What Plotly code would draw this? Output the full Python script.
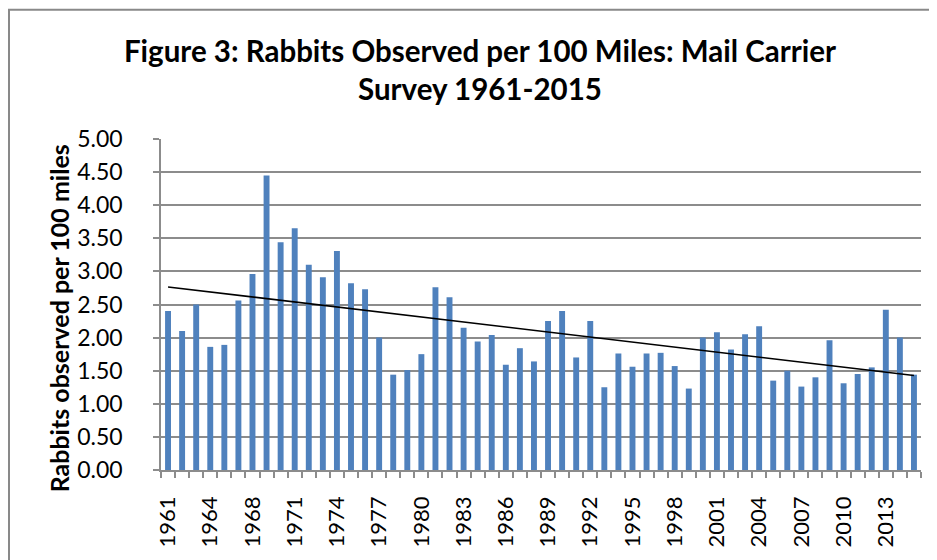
import numpy as np
import plotly.graph_objects as go

# Survey years (one year between 1964 and 1968 is absent from the chart)
years = [1961, 1962, 1963, 1964, 1966, 1967, 1968, 1969, 1970, 1971,
         1972, 1973, 1974, 1975, 1976, 1977, 1978, 1979, 1980, 1981,
         1982, 1983, 1984, 1985, 1986, 1987, 1988, 1989, 1990, 1991,
         1992, 1993, 1994, 1995, 1996, 1997, 1998, 1999, 2000, 2001,
         2002, 2003, 2004, 2005, 2006, 2007, 2008, 2009, 2010, 2011,
         2012, 2013, 2014, 2015]

rabbits = [2.40, 2.10, 2.50, 1.86, 1.89, 2.56, 2.96, 4.45, 3.44, 3.65,
           3.10, 2.91, 3.31, 2.82, 2.73, 2.00, 1.44, 1.51, 1.75, 2.76,
           2.61, 2.15, 1.94, 2.04, 1.59, 1.84, 1.64, 2.25, 2.40, 1.70,
           2.25, 1.25, 1.76, 1.56, 1.76, 1.77, 1.57, 1.23, 2.00, 2.08,
           1.82, 2.05, 2.17, 1.35, 1.50, 1.26, 1.40, 1.96, 1.31, 1.45,
           1.55, 2.42, 2.00, 1.44]

label_years = [1961, 1964, 1968, 1971, 1974, 1977, 1980, 1983, 1986, 1989,
               1992, 1995, 1998, 2001, 2004, 2007, 2010, 2013]

y_ticks = [0.0, 0.5, 1.0, 1.5, 2.0, 2.5, 3.0, 3.5, 4.0, 4.5, 5.0]

title_text = "Figure 3: Rabbits Observed per 100 Miles: Mail Carrier<br>Survey 1961-2015"
y_title = "Rabbits observed per 100 miles"

idx = list(range(len(years)))
label_idx = [years.index(y) for y in label_years]

# Linear trendline (as Excel's)
xs = np.arange(1, len(rabbits) + 1)
slope, intercept = np.polyfit(xs, rabbits, 1)
trend_x = [idx[0], idx[-1]]
trend_y = [slope * xs[0] + intercept, slope * xs[-1] + intercept]

GRID = "#8c8c8c"
FONT = "Lato"

fig = go.Figure()
fig.add_trace(go.Bar(x=idx, y=rabbits, width=0.42,
                     marker=dict(color="#4F81BD", line=dict(width=0)),
                     showlegend=False, hoverinfo="y"))
fig.add_trace(go.Scatter(x=trend_x, y=trend_y, mode="lines",
                         line=dict(color="black", width=1.6),
                         showlegend=False, hoverinfo="skip"))

# The page body has an 8px margin, so the figure is sized to fit inside it.
W, H = 929, 552
L, R, T, B = 153, 16, 131, 87
pw, ph = W - L - R, H - T - B

fig.update_layout(
    width=W, height=H,
    margin=dict(l=L, r=R, t=T, b=B),
    paper_bgcolor="white", plot_bgcolor="white",
    font=dict(family=FONT, color="black", size=22),
    title=dict(text=title_text, x=472 / W, xref="container", xanchor="center",
               y=1 - 53.5 / H, yref="container", yanchor="top",
               font=dict(family=FONT, size=29.5, color="black", weight="bold")),
    xaxis=dict(range=[-0.5, len(years) - 0.5],
               tickmode="array", tickvals=label_idx,
               ticktext=[str(y) for y in label_years],
               tickangle=-90, ticks="", showgrid=False, zeroline=False,
               showline=True, linecolor=GRID, linewidth=1.5,
               ticklabelstandoff=16,
               tickfont=dict(family=FONT, size=22, color="black"),
               minor=dict(tickmode="array",
                          tickvals=[i - 0.5 for i in idx] + [idx[-1] + 0.5],
                          ticks="outside", ticklen=6, tickcolor=GRID,
                          tickwidth=1.5, showgrid=False)),
    yaxis=dict(range=[0, 5], tickmode="array", tickvals=y_ticks,
               tickformat=".2f", showgrid=True, gridcolor=GRID, gridwidth=1.5,
               zeroline=False, showline=True, linecolor=GRID, linewidth=1.5,
               ticks="outside", ticklen=6, tickcolor=GRID, tickwidth=1.5,
               ticklabelstandoff=26,
               tickfont=dict(family=FONT, size=23, color="black")),
)

# Axis title as an annotation (positioned like the original)
fig.add_annotation(text="<b>" + y_title + "</b>", textangle=-90,
                   xref="paper", yref="paper",
                   x=(51 - L) / pw, y=(H - B - 312) / ph,
                   xanchor="center", yanchor="middle", showarrow=False,
                   font=dict(family=FONT, size=25, color="black"))

# Chart-area border (extends past the right and bottom edges)
fig.add_shape(type="rect", xref="paper", yref="paper",
              x0=(1 - L) / pw, x1=(W + 20 - L) / pw,
              y0=(H - B - (H + 20)) / ph, y1=(H - B - 0.5) / ph,
              line=dict(color="#898989", width=2), fillcolor="rgba(0,0,0,0)",
              layer="below")

fig.write_html("out.html")
